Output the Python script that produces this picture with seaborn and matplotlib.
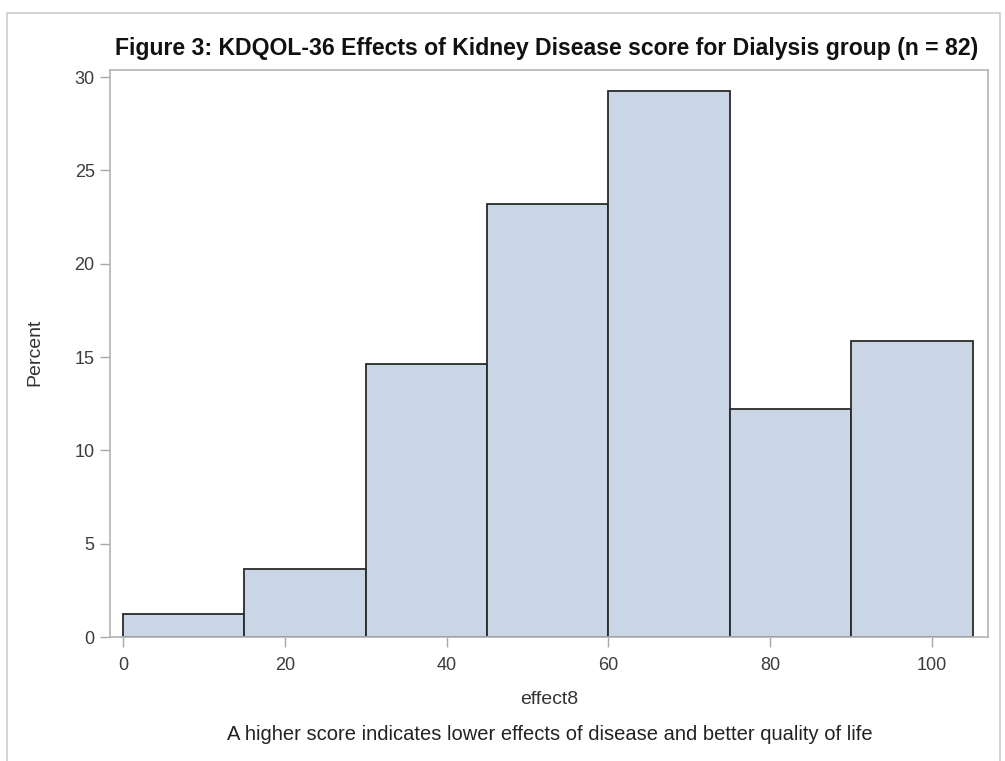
import numpy as np
import pandas as pd
import matplotlib
matplotlib.use("Agg")
import matplotlib.pyplot as plt
import seaborn as sns
from matplotlib.patches import Rectangle

# Data: histogram bins (width 15) and percent of patients in each bin
bin_edges = [0, 15, 30, 45, 60, 75, 90, 105]
bin_mids = [7.5, 22.5, 37.5, 52.5, 67.5, 82.5, 97.5]
percents = [1.22, 3.66, 14.63, 23.17, 29.27, 12.20, 15.85]
x_ticks = [0, 20, 40, 60, 80, 100]
y_ticks = [0, 5, 10, 15, 20, 25, 30]

df = pd.DataFrame({"effect8": bin_mids, "pct": percents})

sns.set_theme(style="white")
plt.rcParams['font.family'] = ['Liberation Sans', 'DejaVu Sans']

W, H = 1005, 761
fig = plt.figure(figsize=(W/100, H/100), dpi=100)
ax_l, ax_r, ax_t, ax_b = 110, 988, 70, 637
ax = fig.add_axes([ax_l/W, 1-ax_b/H, (ax_r-ax_l)/W, (ax_b-ax_t)/H])

sns.histplot(data=df, x="effect8", weights="pct", bins=bin_edges, ax=ax,
             color="#CAD5E5", edgecolor="#2a2a2a", linewidth=1.3, alpha=1)

ax.set_xlim(-1.6, 106.9)
ax.set_ylim(0, 30.375)
ax.set_xticks(x_ticks)
ax.set_yticks(y_ticks)
ax.tick_params(axis="both", which="both", length=7, width=1, color="#a8a8a8",
               labelcolor="#3c3c3c", labelsize=13, direction="out",
               bottom=True, left=True)
ax.tick_params(axis="x", pad=7.5)
ax.tick_params(axis="y", pad=4)
for s in ax.spines.values():
    s.set_color("#b4b4b4")
    s.set_linewidth(1.2)

axh = ax_b - ax_t
axw = ax_r - ax_l
ax.set_xlabel("effect8", fontsize=14, color="#333333")
ax.xaxis.label.set_va("center")
ax.xaxis.set_label_coords((549-ax_l)/axw, (ax_b-700)/axh)
ax.set_ylabel("Percent", fontsize=14, color="#333333")
ax.yaxis.label.set_va("center")
ax.yaxis.set_label_coords((35-ax_l)/axw, (ax_b-352)/axh)

fig.text(547/W, 1-48/H,
         "Figure 3: KDQOL-36 Effects of Kidney Disease score for Dialysis group (n = 82)",
         ha="center", va="center", fontsize=16.6, fontweight="bold", color="#111111")
fig.text(550/W, 1-735/H,
         "A higher score indicates lower effects of disease and better quality of life",
         ha="center", va="center", fontsize=14.5, color="#222222")

# outer border of the graph frame
fig.patches.append(Rectangle((7/W, -0.05), (1000-7)/W, 1-13/H+0.05,
                             transform=fig.transFigure, fill=False,
                             edgecolor="#cccccc", linewidth=1.2))

fig.savefig("out.png", dpi=100)
